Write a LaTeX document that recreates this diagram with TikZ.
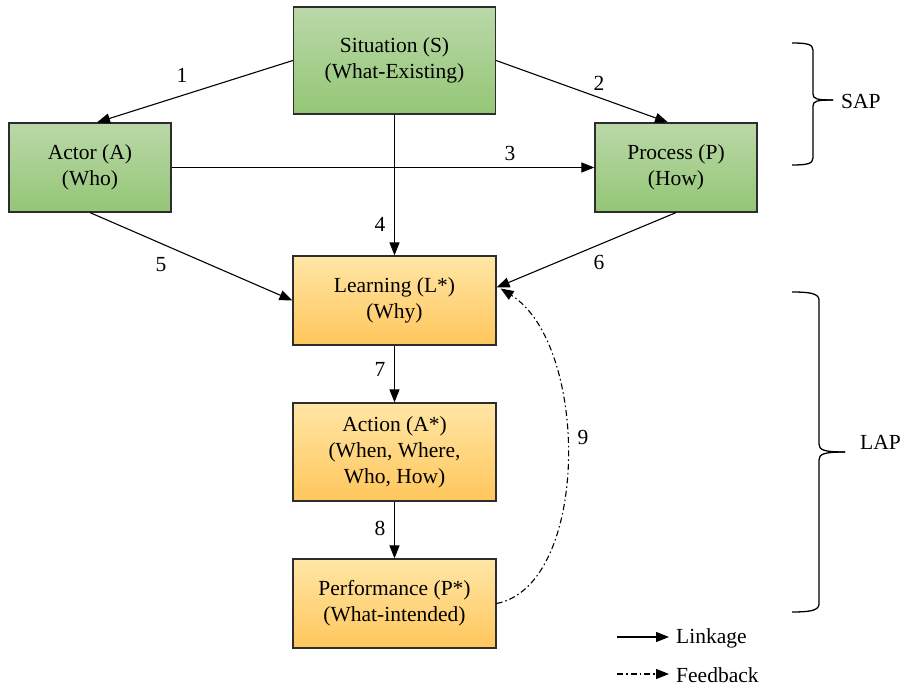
\documentclass[tikz,border=0pt]{standalone}
\usepackage{fontspec}
\setmainfont{Liberation Serif}
\usetikzlibrary{arrows.meta,calc}
\definecolor{gtop}{RGB}{186,216,168}
\definecolor{gbot}{RGB}{148,198,118}
\definecolor{otop}{RGB}{255,230,165}
\definecolor{obot}{RGB}{255,198,92}
\definecolor{bord}{RGB}{45,45,45}
\begin{document}
\begin{tikzpicture}[x=1pt,y=-1pt,
  font=\fontsize{21.5}{26}\selectfont,
  box/.style={draw=bord,line width=1.2pt,rectangle,align=center,inner sep=0pt},
  gbox/.style={box,top color=gtop,bottom color=gbot},
  obox/.style={box,top color=otop,bottom color=obot},
  link/.style={line width=1.1pt,-{Triangle[length=13pt,width=10pt]}},
  fb/.style={line width=1.1pt,dash pattern=on 6pt off 3pt on 1.5pt off 3pt,-{Triangle[length=13pt,width=10pt]}},
  num/.style={inner sep=0pt},
  brc/.style={line width=1.3pt}]
\useasboundingbox (0,0) rectangle (908,687);
\node[gbox,minimum width=202pt,minimum height=107pt] (S) at (394.5,60.5) {Situation (S)\\(What-Existing)};
\node[gbox,minimum width=162pt,minimum height=89pt] (A) at (90,167.5) {Actor (A)\\(Who)};
\node[gbox,minimum width=162pt,minimum height=89pt] (P) at (676,167.5) {Process (P)\\(How)};
\node[obox,minimum width=203pt,minimum height=89pt] (L) at (394.5,300.5) {Learning (L*)\\(Why)};
\node[obox,minimum width=203pt,minimum height=98pt] (Ac) at (394.5,452) {Action (A*)\\(When, Where,\\Who, How)};
\node[obox,minimum width=203pt,minimum height=89pt] (Pf) at (394.5,603.5) {Performance (P*)\\(What-intended)};
% connectors
\draw[link] (S.west) -- ($(A.north)+(7,0)$);
\draw[link] (S.east) -- ($(P.north)+(-8,0)$);
\draw[link] (A.east) -- (P.west);
\draw[link] (S.south) -- (L.north);
\draw[link] (A.south) -- (L.west);
\draw[link] (P.south) -- ($(L.east)+(0,-13)$);
\draw[link] (L.south) -- (Ac.north);
\draw[link] (Ac.south) -- (Pf.north);
\coordinate (fbend) at ($(L.east)+(4,-12)$);
\draw[fb] (Pf.east) .. controls (590,585) and (590,345) .. (fbend);
% labels
\node[num] (n1) at (182,75) {1};
\node[num] (n2) at (599,83) {2};
\node[num] (n3) at (510,153) {3};
\node[num] (n4) at (380,224) {4};
\node[num] (n5) at (161,265) {5};
\node[num] (n6) at (599,262) {6};
\node[num] (n7) at (380,369) {7};
\node[num] (n8) at (380,528) {8};
\node[num] (n9) at (583,437) {9};
% braces
\draw[brc] (792,43) .. controls (806,43) and (813,44) .. (813,50) -- (813,94)
  .. controls (813,99) and (817,100) .. (833,100);
\draw[brc] (792,165) .. controls (806,165) and (813,164) .. (813,158) -- (813,106)
  .. controls (813,101) and (817,100) .. (833,100);
\node[num,anchor=west] (sap) at (841,101) {SAP};
\draw[brc] (792,292) .. controls (808,292) and (819,293) .. (819,300) -- (819,444)
  .. controls (819,450) and (824,452) .. (845,452);
\draw[brc] (792,612) .. controls (808,612) and (819,611) .. (819,604) -- (819,460)
  .. controls (819,454) and (824,452) .. (845,452);
\node[num,anchor=west] (lap) at (860,442) {LAP};
% legend
\coordinate (l1a) at (617,637);
\coordinate (l1b) at (669,637);
\coordinate (l2a) at (617,674);
\coordinate (l2b) at (669,674);
\draw[link] (l1a) -- (l1b);
\draw[fb] (l2a) -- (l2b);
\node[num,anchor=west] (lk) at (676,638) {Linkage};
\node[num,anchor=west] (fbk) at (676,675) {Feedback};
\end{tikzpicture}
\end{document}
